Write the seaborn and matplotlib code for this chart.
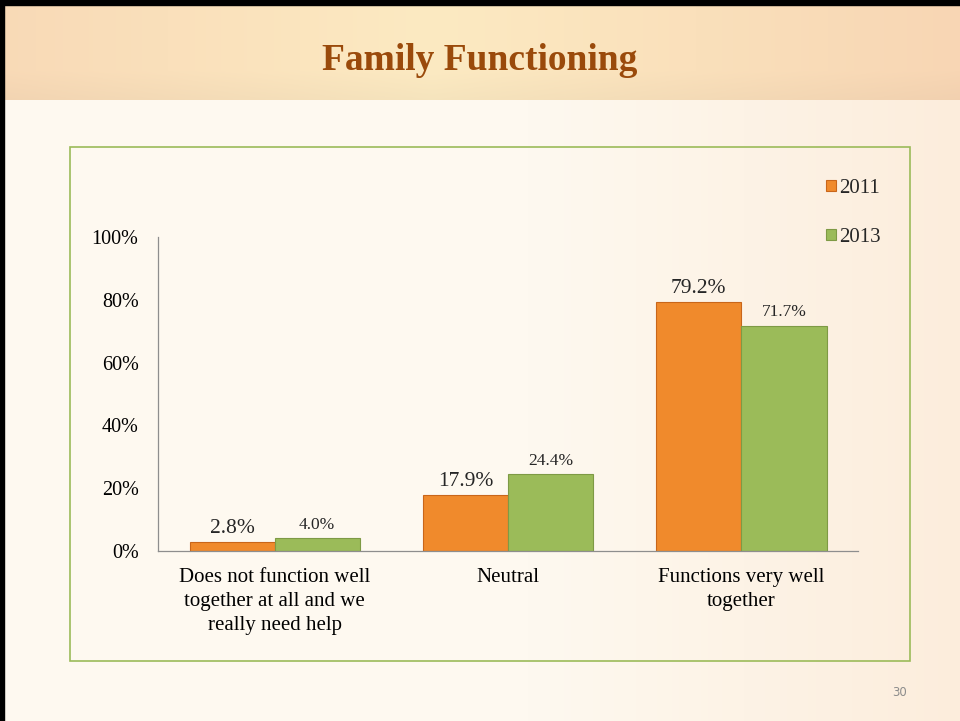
# Family Functioning: grouped bar chart 2011 vs 2013
import numpy as np
import pandas as pd
import matplotlib
matplotlib.use("Agg")
import matplotlib.pyplot as plt
from matplotlib.patches import Rectangle
import seaborn as sns

categories = ["Does not function well\ntogether at all and we\nreally need help",
              "Neutral",
              "Functions very well\ntogether"]
years = ["2011", "2013"]
values_2011 = [2.8, 17.9, 79.2]
values_2013 = [4.0, 24.4, 71.7]
yticks = [0, 20, 40, 60, 80, 100]

df = pd.DataFrame({
    "category": categories * 2,
    "year": [years[0]] * 3 + [years[1]] * 3,
    "value": values_2011 + values_2013,
})

sns.set_theme(style="white")
plt.rcParams["font.family"] = ["Liberation Serif", "DejaVu Serif"]

fig = plt.figure(figsize=(9.6, 7.21), dpi=100)

# background: slide body and title band gradients
bg = fig.add_axes([0, 0, 1, 1], zorder=-10)
bg.axis("off")
w, h = 960, 721
xx = np.linspace(0, 1, w)
body_l = np.array([254, 249, 240]) / 255
body_r = np.array([252, 237, 220]) / 255
t = np.clip((xx - 0.55) / 0.45, 0, 1)[None, :, None]
img = np.ones((h, w, 3)) * (body_l * (1 - t) + body_r * t)
band_edge = np.array([248, 214, 180]) / 255
band_mid = np.array([252, 234, 194]) / 255
bt = (1 - np.abs(xx - 0.45) / 0.55).clip(0, 1)[None, :, None]
band = band_edge * (1 - bt) + band_mid * bt
img[:100] = band
fade = np.linspace(1.0, 0.975, 30)[:, None, None]
img[70:100] = img[70:100] * fade
bg.imshow(img, extent=[0, 1, 0, 1], aspect="auto")
bg.set_xlim(0, 1)
bg.set_ylim(0, 1)
# black slide frame on top and left
bg.add_patch(Rectangle((0, 1 - 5 / h), 1, 5 / h, color="black"))
bg.add_patch(Rectangle((0, 0), 4 / w, 1, color="black"))

# green chart frame
fig.patches.append(Rectangle((70 / w, 1 - 661 / h), 840 / w, 514 / h,
                             transform=fig.transFigure, fill=False,
                             edgecolor="#9BBB59", linewidth=1.2))

fig.text(0.5, 1 - 60 / h, "Family Functioning", ha="center", va="center",
         fontsize=27, fontweight="bold", color="#9A4A0B")
fig.text(900 / w, 1 - 693 / h, "30", ha="center", va="center",
         fontsize=8.5, color="#8C8C8C", family="DejaVu Sans")

ax = fig.add_axes([158 / w, 1 - 551 / h, 700 / w, 314 / h])
ax.set_facecolor("none")
sns.barplot(data=df, x="category", y="value", hue="year", ax=ax,
            palette=["#F08A2C", "#9BBB59"], width=0.73, saturation=1,
            edgecolor="#C9661A", linewidth=0.8)
for patch in ax.patches[3:6]:
    patch.set_edgecolor("#7E9A45")

ax.set_ylim(0, 100)
ax.set_xlim(-0.5, 2.5)
ax.set_yticks(yticks)
ax.set_yticklabels([f"{v}%" for v in yticks], fontsize=14.5)
ax.tick_params(axis="both", length=0, colors="black")
ax.tick_params(axis="y", pad=14)
ax.tick_params(axis="x", pad=12)
for lbl in ax.get_xticklabels():
    lbl.set_fontsize(15)
    lbl.set_linespacing(1.38)
ax.set_xlabel("")
ax.set_ylabel("")
for s in ["top", "right"]:
    ax.spines[s].set_visible(False)
for s in ["left", "bottom"]:
    ax.spines[s].set_color("#8E8E8E")
    ax.spines[s].set_linewidth(0.9)

ax.bar_label(ax.containers[0], fmt="%.1f%%", padding=3, fontsize=15.5)
ax.bar_label(ax.containers[1], fmt="%.1f%%", padding=4, fontsize=12.5)

handles, labels = ax.get_legend_handles_labels()
leg = ax.legend(handles, labels, loc="center left", bbox_to_anchor=(816 / w, 1 - 213 / h),
                bbox_transform=fig.transFigure, frameon=False, fontsize=15,
                handlelength=0.45, handleheight=0.45, handletextpad=0.15,
                labelspacing=1.45, borderpad=0)
for hnd, ec in zip(leg.get_patches(), ["#C9661A", "#7E9A45"]):
    hnd.set_edgecolor(ec)

fig.savefig("out.png", dpi=100)
